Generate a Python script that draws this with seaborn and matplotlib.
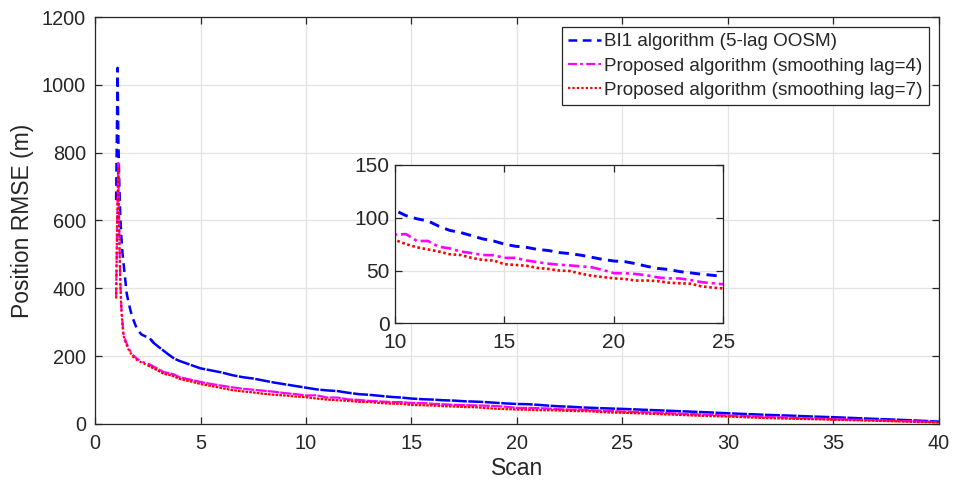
import numpy as np
import pandas as pd
import matplotlib
matplotlib.use("Agg")
import matplotlib.pyplot as plt
import seaborn as sns

# ---------------- data ----------------
blue_x = [1.0, 1.07, 1.1, 1.15, 1.2, 1.25, 1.3, 1.4, 1.5, 1.6, 1.7, 1.8, 2.0, 2.2, 2.4, 2.6, 2.8,
          3.0, 3.25, 3.5, 3.75, 4.0, 4.5, 5.0, 5.5, 6.0, 6.5, 7.0, 7.5, 8.0, 8.5, 9.0, 9.5,
          10, 10.5, 11, 11.5, 12, 12.5, 13, 13.5, 14, 14.5, 15, 15.5, 16, 16.5, 17, 17.5,
          18, 18.5, 19, 19.5, 20, 20.5, 21, 21.5, 22, 22.5, 23, 23.5, 24, 24.5, 25,
          26, 27, 28, 29, 30, 31, 32, 33, 34, 35, 36, 37, 38, 39, 40]
blue_y = [660, 1050, 860, 710, 610, 550, 505, 445, 385, 355, 330, 310, 278, 264, 258, 252, 238,
          228, 216, 204, 193, 186, 175, 164, 158, 152, 144, 138, 134, 128, 122, 117, 112,
          107, 102, 99, 97, 92, 88, 86, 83, 80, 78, 75, 73, 72, 70, 69, 67,
          66, 64.5, 62.5, 60.5, 59, 58.4, 56.5, 54, 52, 51, 49, 47.8, 46.5, 45.5, 44.5,
          42, 39.5, 37, 34.5, 31.5, 29, 26.5, 24.5, 22, 20, 17.5, 15, 12.7, 10, 7]

prop_x = [1.0, 1.05, 1.1, 1.15, 1.2, 1.25, 1.3, 1.35, 1.45, 1.6, 1.8, 2.0, 2.25, 2.5, 2.75,
          3.0, 3.25, 3.5, 3.75, 4.0, 4.5, 5.0, 5.5, 6.0, 6.5, 7.0, 7.5, 8.0, 8.5, 9.0, 9.5,
          10, 10.5, 11, 11.5, 12, 12.5, 13, 13.5, 14, 14.5, 15, 15.5, 16, 16.5, 17, 17.5,
          18, 18.5, 19, 19.5, 20, 20.5, 21, 21.5, 22, 22.5, 23, 23.5, 24, 24.5, 25,
          26, 27, 28, 29, 30, 31, 32, 33, 34, 35, 36, 37, 38, 39, 40]
lag4_y = [375, 600, 770, 560, 420, 340, 300, 265, 245, 222, 203, 192, 183, 178, 170,
          162, 153, 150, 146, 138, 131, 124, 118, 113, 108, 104, 101, 98, 95, 91, 88,
          84, 84.5, 78, 78, 72.5, 71, 68, 66.5, 64.7, 64.5, 62, 62, 59.5, 58, 56.5, 55.5,
          54.8, 54, 53, 50.5, 47.5, 47.4, 46.7, 45.5, 43.5, 42.5, 42.5, 41, 39, 38, 37,
          35, 32.5, 30, 27.5, 25, 23, 20.5, 18.5, 16.5, 14, 12.5, 11, 9, 7.5, 5.5]
lag7_y = [370, 600, 760, 550, 410, 335, 292, 260, 240, 218, 198, 188, 180, 173, 165,
          157, 148, 145, 140, 133, 126, 118, 112, 106, 100, 96, 93, 89, 86, 84, 81,
          79, 75, 72, 70, 68, 65.4, 64.7, 62, 60, 59.5, 56, 55.3, 54.5, 52.5, 51.5, 50,
          49.5, 47, 45, 43.8, 42.6, 42, 40.5, 40.5, 40, 38.5, 37.9, 37.5, 35, 33.8, 33,
          31, 28.5, 26, 23.5, 22, 19.5, 17, 15.5, 14, 12.7, 11, 9.5, 7.7, 6, 4.5]

labels = ["BI1 algorithm (5-lag OOSM)",
          "Proposed algorithm (smoothing lag=4)",
          "Proposed algorithm (smoothing lag=7)"]
main_xticks = [0, 5, 10, 15, 20, 25, 30, 35, 40]
main_yticks = [0, 200, 400, 600, 800, 1000, 1200]
inset_xticks = [10, 15, 20, 25]
inset_yticks = [0, 50, 100, 150]

# ---------------- style ----------------
sns.set_style("whitegrid")
plt.rcParams["font.family"] = ["Liberation Sans", "DejaVu Sans"]

series = [
    (blue_x, blue_y, labels[0], "#0000ff", (0, (3.5, 2.2)), (0, (6.0, 0.6)), 1.8),
    (prop_x, lag4_y, labels[1], "#ff00ff", (0, (4.0, 1.5, 1.2, 1.5)), (0, (5.0, 0.6)), 1.6),
    (prop_x, lag7_y, labels[2], "#ff0000", (0, (1.0, 1.0)), (0, (1.2, 0.5)), 1.6),
]

fig = plt.figure(figsize=(9.57, 4.86), dpi=100)
ax = fig.add_axes([0.0993, 0.1276, 0.8818, 0.8374])


def style_axes(a, fs, xpad, ypad):
    a.set_facecolor("white")
    a.grid(True, color="#e3e3e3", linewidth=0.9)
    a.set_axisbelow(True)
    for s in a.spines.values():
        s.set_visible(True)
        s.set_color("#262626")
        s.set_linewidth(0.9)
    a.tick_params(direction="in", length=5, width=0.9, color="#262626",
                  top=True, right=True, labelsize=fs, labelcolor="#262626",
                  bottom=True, left=True)
    a.tick_params(axis="x", pad=xpad)
    a.tick_params(axis="y", pad=ypad)


# main plot: the steep start shows clear dashes, the dense tail looks almost solid
for xs, ys, lab, col, ls, ls_tail, lw in series:
    df = pd.DataFrame({"Scan": xs, "RMSE": ys})
    head = df[df["Scan"] <= 2.8]
    tail = df[df["Scan"] >= 2.5]
    sns.lineplot(data=head, x="Scan", y="RMSE", ax=ax, color=col, linestyle=ls,
                 linewidth=lw, label=lab, estimator=None, sort=False)
    sns.lineplot(data=tail, x="Scan", y="RMSE", ax=ax, color=col, linestyle=ls_tail,
                 linewidth=lw, legend=False, estimator=None, sort=False)

ax.set_xlim(0, 40)
ax.set_ylim(0, 1200)
ax.set_xticks(main_xticks)
ax.set_yticks(main_yticks)
style_axes(ax, 14.3, 7, 6.5)
ax.set_xlabel("Scan", fontsize=16.5, color="#262626", labelpad=3)
ax.set_ylabel("Position RMSE (m)", fontsize=16.5, color="#262626", labelpad=6)

leg = ax.legend(loc="upper right", fontsize=13.6, frameon=True, fancybox=False,
                edgecolor="#262626", framealpha=1, borderpad=0.3,
                handlelength=1.75, handletextpad=0.2, labelspacing=0.38,
                borderaxespad=0.55)
leg.get_frame().set_linewidth(0.9)

# ---------------- inset ----------------
axin = fig.add_axes([0.4128, 0.3348, 0.343, 0.3257])
for xs, ys, lab, col, ls, ls_tail, lw in series:
    df = pd.DataFrame({"Scan": xs, "RMSE": ys})
    sns.lineplot(data=df, x="Scan", y="RMSE", ax=axin, color=col, linestyle=ls,
                 linewidth=lw + 0.3, legend=False, estimator=None, sort=False)
axin.set_xlim(10, 25)
axin.set_ylim(0, 150)
axin.set_xticks(inset_xticks)
axin.set_yticks(inset_yticks)
style_axes(axin, 15, 7, 4)
axin.set_xlabel("")
axin.set_ylabel("")

fig.savefig("out.png", dpi=100)
